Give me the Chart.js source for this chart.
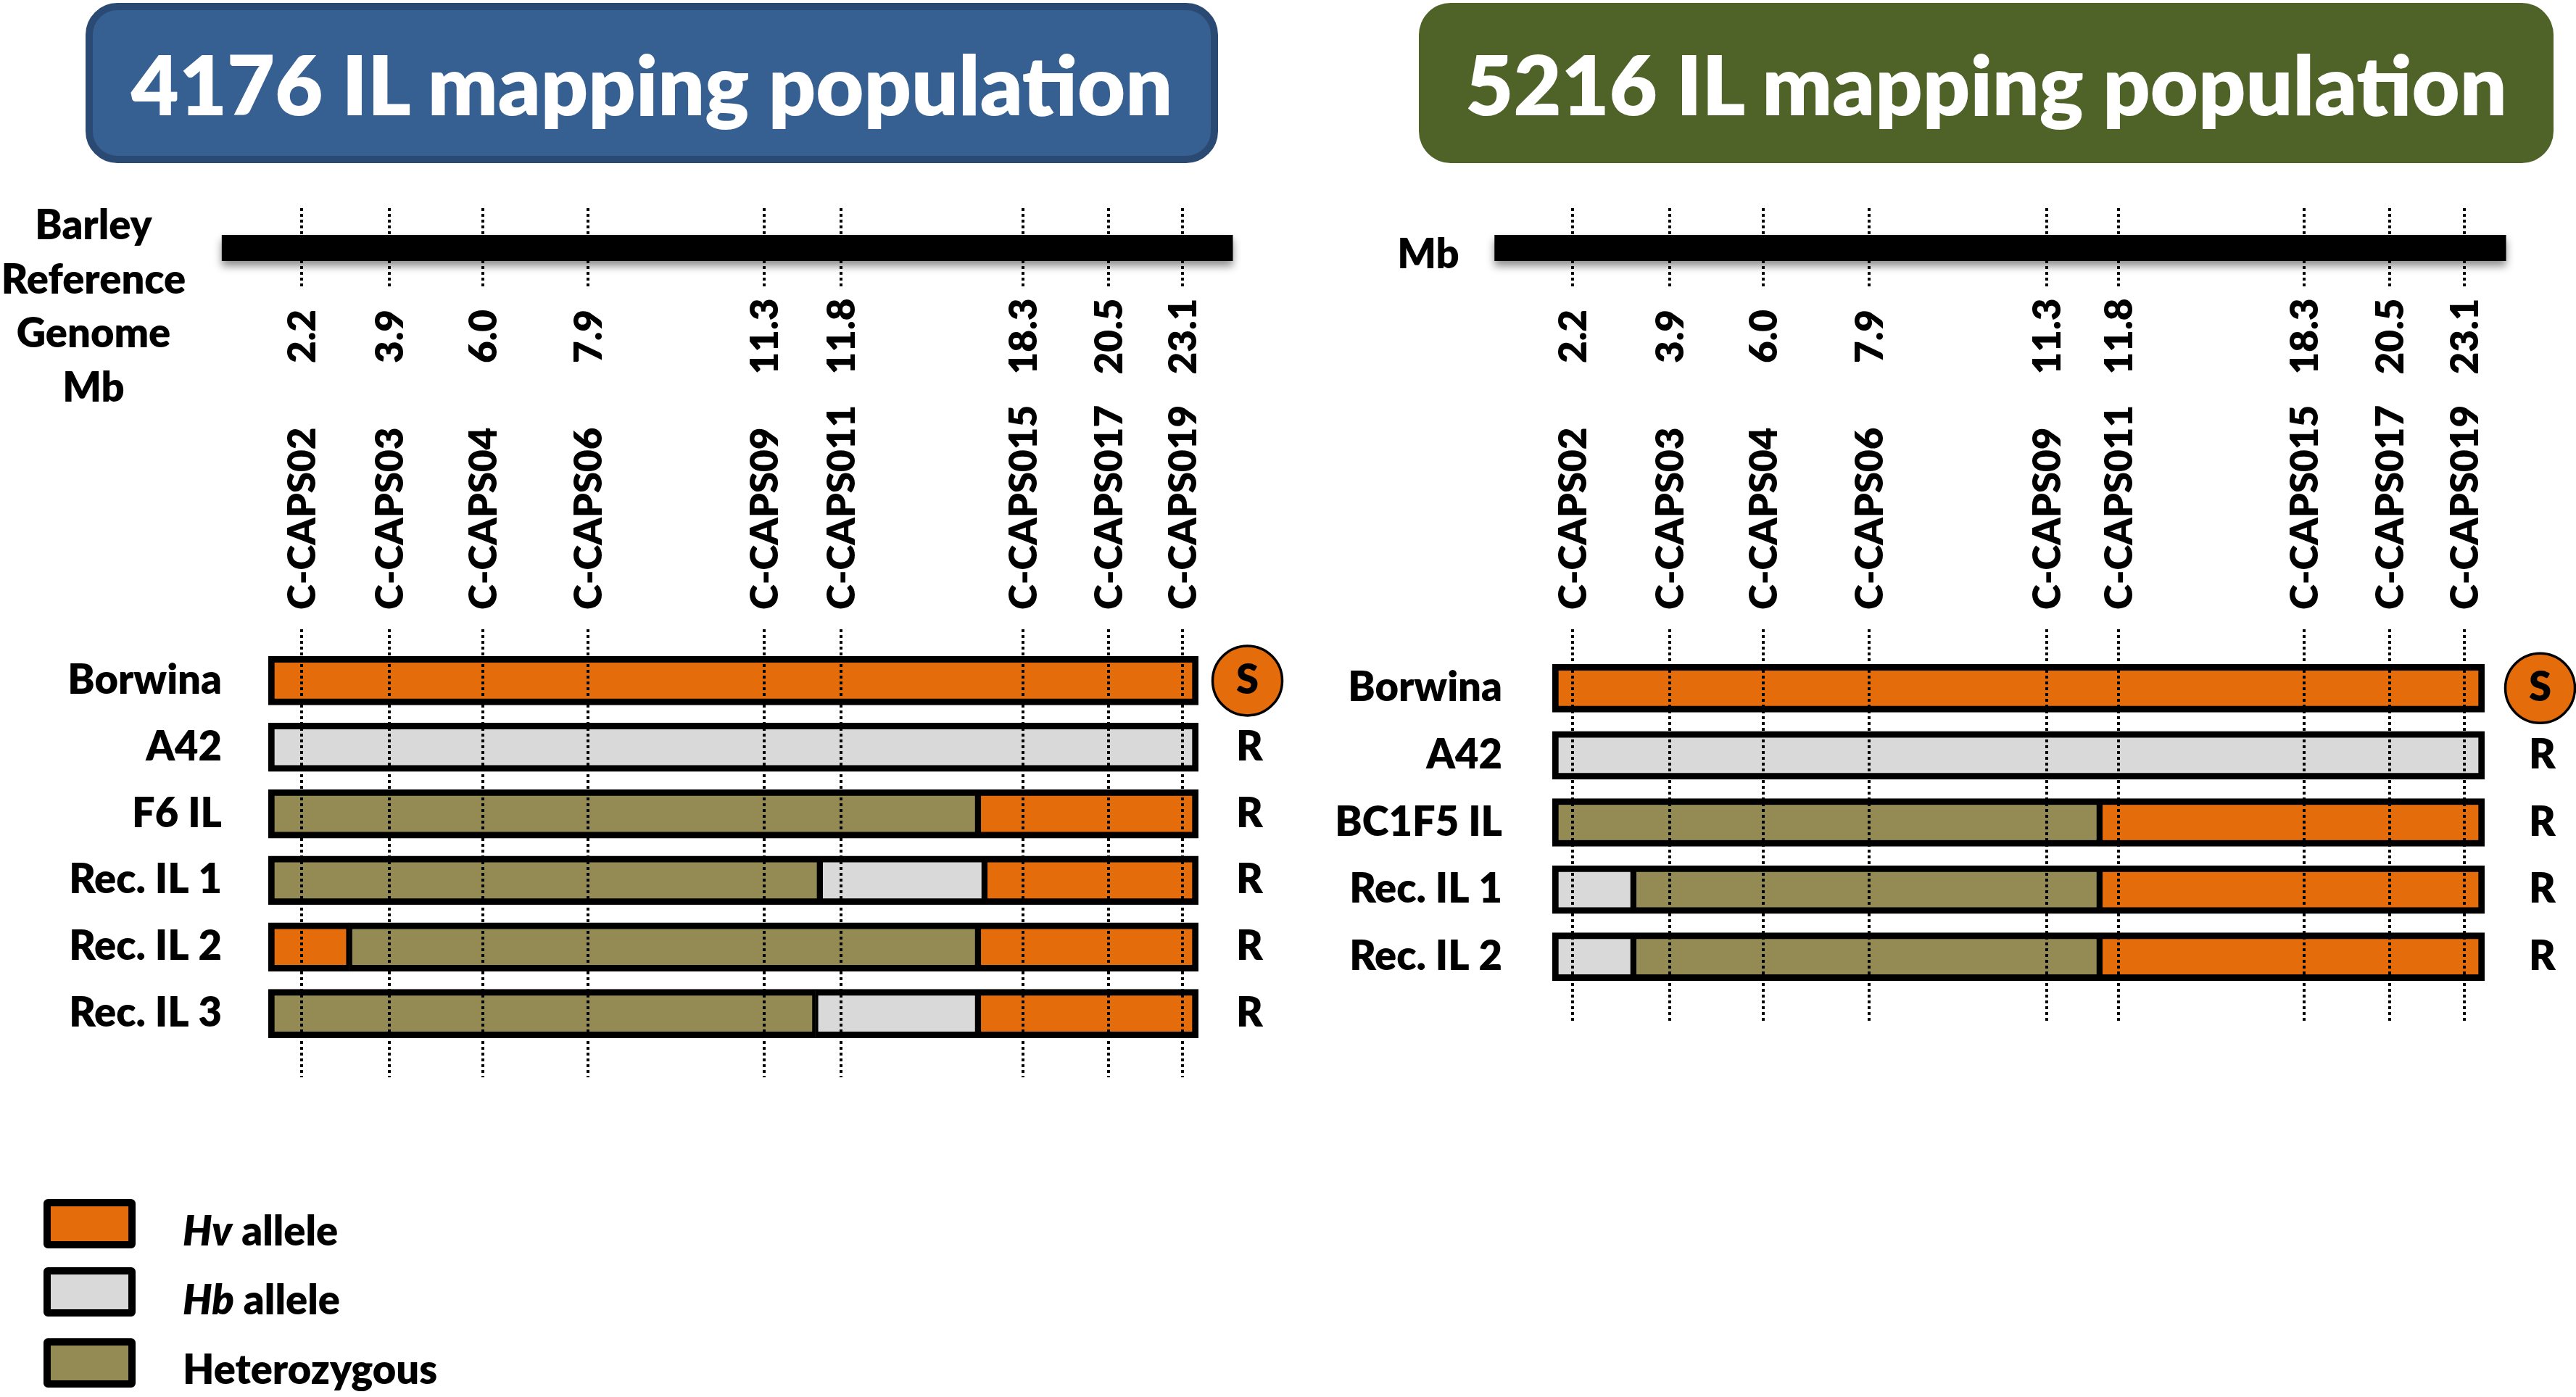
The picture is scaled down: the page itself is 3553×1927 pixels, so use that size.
<!DOCTYPE html>
<html>
<head>
<meta charset="utf-8">
<script src="https://cdn.jsdelivr.net/npm/chart.js@4.4.1/dist/chart.umd.min.js"></script>
<style>
  html, body { margin: 0; padding: 0; background: #fff; }
  body { width: 3553px; height: 1927px; position: relative; overflow: hidden; font-family: Lato, 'Open Sans', sans-serif; }
  .title { position: absolute; top: 4px; height: 221px; box-sizing: border-box; border-radius: 44px; color: #fff;
           font-weight: 800; font-size: 114px; display: flex; align-items: center; justify-content: center; }
  #t1 { left: 118px; width: 1562px; background: #376092; border: 10px solid #2a4a73; }
  #t2 { left: 1957px; width: 1565px; background: #4f6228; }
  .panel { position: absolute; top: 0; height: 1927px; }
  #p1 { left: 0; width: 1776px; }
  #p2 { left: 1776px; width: 1777px; }
  .swatch { position: absolute; left: 60px; width: 127px; height: 68px; box-sizing: border-box; border: 10px solid #000; border-radius: 6px; }
  .ltext { position: absolute; left: 252px; font-weight: 800; font-size: 56px; line-height: 56px; color: #000; white-space: nowrap; }
</style>
</head>
<body>
<div class="title" id="t1">4176 IL mapping population</div>
<div class="title" id="t2">5216 IL mapping population</div>
<div class="panel" id="p1"><canvas id="c1"></canvas></div>
<div class="panel" id="p2"><canvas id="c2"></canvas></div>

<div class="swatch" style="top:1654px;background:#E46C0A"></div>
<div class="ltext" style="top:1669px"><i>Hv</i> allele</div>
<div class="swatch" style="top:1748px;background:#D9D9D9"></div>
<div class="ltext" style="top:1764px"><i>Hb</i> allele</div>
<div class="swatch" style="top:1846px;background:#948A54"></div>
<div class="ltext" style="top:1860px">Heterozygous</div>

<script>
// allele colours
const alleleColor = { Hv: '#E46C0A', Hb: '#D9D9D9', Het: '#948A54' };

// markers (same set for both populations)
const markerNames = ['C-CAPS02', 'C-CAPS03', 'C-CAPS04', 'C-CAPS06', 'C-CAPS09', 'C-CAPS011', 'C-CAPS015', 'C-CAPS017', 'C-CAPS019'];
const markerMb = ['2.2', '3.9', '6.0', '7.9', '11.3', '11.8', '18.3', '20.5', '23.1'];
// where each marker sits along the drawn genotype bar (0 = bar start, 100 = bar end)
const markerPos4176 = [3.6, 13.0, 23.1, 34.4, 53.3, 61.6, 81.1, 90.3, 98.3];
const markerPos5216 = [2.2, 12.6, 22.6, 34.0, 53.0, 60.7, 80.6, 89.8, 97.8];
// reference genome bar, same units
const chrom4176 = [-5.0, 103.7];
const chrom5216 = [-6.2, 102.3];

// 4176 population
const lines4176 = ['Borwina', 'A42', 'F6 IL', 'Rec. IL 1', 'Rec. IL 2', 'Rec. IL 3'];
const pheno4176 = ['S', 'R', 'R', 'R', 'R', 'R'];
const breaks4176 = [[0, 100], [0, 100], [0, 76.3, 100], [0, 59.3, 77.0, 100], [0, 8.7, 76.3, 100], [0, 58.8, 76.3, 100]];
const geno4176 = [['Hv'], ['Hb'], ['Het', 'Hv'], ['Het', 'Hb', 'Hv'], ['Hv', 'Het', 'Hv'], ['Het', 'Hb', 'Hv']];

// 5216 population
const lines5216 = ['Borwina', 'A42', 'BC1F5 IL', 'Rec. IL 1', 'Rec. IL 2'];
const pheno5216 = ['S', 'R', 'R', 'R', 'R'];
const breaks5216 = [[0, 100], [0, 100], [0, 58.7, 100], [0, 8.7, 58.7, 100], [0, 8.7, 58.7, 100]];
const geno5216 = [['Hv'], ['Hb'], ['Het', 'Hv'], ['Hb', 'Het', 'Hv'], ['Hb', 'Het', 'Hv']];

const FONT = 'Lato, "Open Sans", sans-serif';
const WEIGHT = '800';

// one floating-bar dataset per segment index
function segmentSets(breaks, geno, thickness) {
  const n = Math.max(...geno.map(g => g.length));
  const sets = [];
  for (let k = 0; k < n; k++) {
    sets.push({
      data: breaks.map(b => (k < b.length - 1 ? [b[k], b[k + 1]] : null)),
      backgroundColor: ctx => alleleColor[(geno[ctx.dataIndex] || [])[k]] || 'transparent',
      borderColor: '#000',
      borderWidth: ctx => {
        const last = (geno[ctx.dataIndex] || []).length - 1;
        return { top: 9, bottom: 9, left: k === 0 ? 9 : 4.5, right: k === last ? 9 : 4.5 };
      },
      borderSkipped: false,
      grouped: false,
      barThickness: thickness
    });
  }
  return sets;
}

// draws the genome bar, dotted marker lines, rotated labels and the S circle
function headerPlugin(p) {
  return {
    id: 'header',
    beforeDraw(chart) {
      const { ctx, chartArea } = chart;
      const yr = chart.scales.yr;
      ctx.save();
      ctx.font = WEIGHT + ' 56px ' + FONT;
      p.pheno.forEach((t, i) => {
        if (t !== 'S') return;
        const w = ctx.measureText(t).width;
        const cx = chartArea.right + p.phenoPad + w / 2;
        const cy = yr.getPixelForTick(i);
        ctx.beginPath();
        ctx.arc(cx, cy, 48, 0, Math.PI * 2);
        ctx.fillStyle = alleleColor.Hv;
        ctx.fill();
        ctx.lineWidth = 3.5;
        ctx.strokeStyle = '#000';
        ctx.stroke();
      });
      ctx.restore();
    },
    afterDatasetsDraw(chart) {
      const { ctx, chartArea } = chart;
      const x = chart.scales.x;
      ctx.save();

      // genome bar with soft shadow
      const x0 = x.getPixelForValue(p.chrom[0]);
      const x1 = x.getPixelForValue(p.chrom[1]);
      ctx.shadowColor = 'rgba(0,0,0,0.45)';
      ctx.shadowBlur = 12;
      ctx.shadowOffsetY = 7;
      ctx.fillStyle = '#000';
      ctx.fillRect(x0, 324, x1 - x0, 36);
      ctx.shadowColor = 'transparent';

      // dotted marker lines
      ctx.strokeStyle = '#000';
      ctx.lineWidth = 4;
      ctx.setLineDash([4, 4]);
      p.markers.forEach(m => {
        const px = Math.round(x.getPixelForValue(m));
        ctx.beginPath();
        ctx.moveTo(px, 287); ctx.lineTo(px, 396);
        ctx.moveTo(px, 868); ctx.lineTo(px, chartArea.bottom + 42);
        ctx.stroke();
      });
      ctx.setLineDash([]);

      // rotated Mb values and marker names
      ctx.fillStyle = '#000';
      ctx.font = WEIGHT + ' 53px ' + FONT;
      ctx.textBaseline = 'middle';
      p.markers.forEach((m, i) => {
        const px = x.getPixelForValue(m);
        ctx.save();
        ctx.translate(px + 2, 464);
        ctx.rotate(-Math.PI / 2);
        ctx.textAlign = 'center';
        ctx.fillText(markerMb[i], 0, 0);
        ctx.restore();
        ctx.save();
        ctx.translate(px + 2, 841);
        ctx.rotate(-Math.PI / 2);
        ctx.textAlign = 'left';
        ctx.fillText(markerNames[i], 0, 0);
        ctx.restore();
      });

      // side caption of the genome bar
      ctx.font = WEIGHT + ' 56px ' + FONT;
      ctx.textAlign = 'center';
      ctx.textBaseline = 'alphabetic';
      p.caption.forEach((t, i) => ctx.fillText(t, p.captionX, p.captionY[i]));
      ctx.restore();
    }
  };
}

function makeChart(id, p) {
  return new Chart(document.getElementById(id), {
    type: 'bar',
    data: { labels: p.lines, datasets: segmentSets(p.breaks, p.geno, p.thickness) },
    options: {
      indexAxis: 'y',
      responsive: true,
      maintainAspectRatio: false,
      animation: false,
      events: [],
      layout: { padding: { top: p.top, bottom: p.bottom, left: 0, right: 0 } },
      scales: {
        x: { type: 'linear', min: 0, max: 100, display: false },
        y: {
          type: 'category',
          position: 'left',
          grid: { display: false, drawTicks: false },
          border: { display: false },
          ticks: { autoSkip: false, padding: p.labelPad, color: '#000', font: { family: FONT, size: 56, weight: WEIGHT } },
          afterFit: s => { s.width = p.leftW; }
        },
        yr: {
          type: 'category',
          position: 'right',
          labels: p.pheno,
          offset: true,
          grid: { display: false, drawTicks: false },
          border: { display: false },
          ticks: { autoSkip: false, padding: p.phenoPad, color: '#000', font: { family: FONT, size: 56, weight: WEIGHT } },
          afterFit: s => { s.width = p.rightW; }
        }
      },
      plugins: { legend: { display: false }, tooltip: { enabled: false } }
    },
    plugins: [headerPlugin(p)]
  });
}

function draw() {
  makeChart('c1', {
    lines: lines4176, pheno: pheno4176, breaks: breaks4176, geno: geno4176,
    markers: markerPos4176, chrom: chrom4176, thickness: 67,
    top: 893, bottom: 483, leftW: 370, rightW: 123, labelPad: 64, phenoPad: 52,
    caption: ['Barley', 'Reference', 'Genome', 'Mb'], captionX: 129, captionY: [330, 405, 479, 554]
  });
  makeChart('c2', {
    lines: lines5216, pheno: pheno5216, breaks: breaks5216, geno: geno5216,
    markers: markerPos5216, chrom: chrom5216, thickness: 66,
    top: 903, bottom: 561, leftW: 365, rightW: 126, labelPad: 69, phenoPad: 61,
    caption: ['Mb'], captionX: 194, captionY: [370]
  });
}

if (document.fonts && document.fonts.load) {
  Promise.all([document.fonts.load('800 56px Lato'), document.fonts.load('italic 800 56px Lato')])
    .then(draw, draw);
} else {
  draw();
}
</script>
</body>
</html>
